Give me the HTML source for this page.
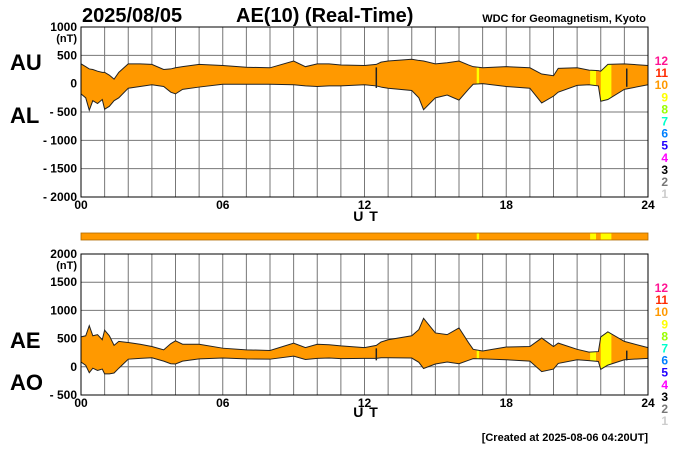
<!DOCTYPE html>
<html><head><meta charset="utf-8"><style>
html,body{margin:0;padding:0;background:#fff}
svg{display:block;font-family:"Liberation Sans",Arial,sans-serif}
</style></head><body>
<svg id="chart" width="700" height="450" viewBox="0 0 700 450">
<text x="82" y="22" font-size="20" font-weight="bold">2025/08/05</text>
<text x="236" y="22" font-size="20" font-weight="bold">AE(10) (Real-Time)</text>
<text x="646" y="22" font-size="11" font-weight="bold" text-anchor="end">WDC for Geomagnetism, Kyoto</text>
<text x="10" y="70" font-size="22" font-weight="bold">AU</text>
<text x="10" y="123" font-size="22" font-weight="bold">AL</text>
<text x="10" y="348" font-size="22" font-weight="bold">AE</text>
<text x="10" y="390" font-size="22" font-weight="bold">AO</text>
<text x="366" y="221" font-size="14" font-weight="bold" text-anchor="middle" letter-spacing="1">U T</text>
<text x="366" y="417" font-size="14" font-weight="bold" text-anchor="middle" letter-spacing="1">U T</text>
<text x="648" y="441" font-size="11" font-weight="bold" text-anchor="end">[Created at 2025-08-06 04:20UT]</text>
<g id="top"></g><g id="bot"></g><g id="strip"></g>
</svg>
<script>
const hours=[0,0.2,0.35,0.5,0.7,0.9,1.0,1.2,1.4,1.6,2,2.5,3,3.5,3.8,4,4.3,5,6,7,8,9,9.5,10,10.5,11,12,12.5,12.7,13,14,14.3,14.5,15,15.5,16,16.4,16.6,17,18,19,19.5,20,20.2,21,21.5,21.9,22,22.3,23,24];
const au=[350,300,260,250,220,200,200,150,80,200,350,350,340,250,260,280,300,340,320,290,280,400,300,350,350,330,320,340,380,400,430,410,400,350,370,400,330,300,280,300,280,170,140,270,280,240,230,220,340,350,320];
const al=[-180,-250,-470,-300,-350,-280,-450,-400,-300,-250,-80,-50,-20,-50,-150,-180,-100,-60,-10,-10,-10,-20,-40,-50,-40,-40,-20,-40,-60,-80,-120,-250,-460,-250,-200,-290,-100,-10,0,-50,-80,-340,-220,-150,-30,-20,-40,-310,-280,-100,-20];
const yellowBands=[[16.75,16.85],[21.55,21.8],[22.0,22.45]];
const spikes=[12.5,23.1];
const topTicks=[1000,500,0,-500,-1000,-1500,-2000];
const topTickLabels=["1000","500","0","- 500","- 1000","- 1500","- 2000"];
const botTicks=[2000,1500,1000,500,0,-500];
const botTickLabels=["2000","1500","1000","500","0","- 500"];
const xTickLabels=["00","06","12","18","24"];
const legendNums=["12","11","10","9","8","7","6","5","4","3","2","1"];
const legendColors=["#ff1493","#ff2a00","#ff9900","#ffff00","#99ff00","#00ffcc","#0080ff","#2000ff","#ff00ff","#000","#777","#ccc"];

const NS="http://www.w3.org/2000/svg";
const X0=81,X1=648;
const xs=h=>X0+(X1-X0)*h/24;
function mk(p,t,a){const e=document.createElementNS(NS,t);for(const k in a)e.setAttribute(k,a[k]);p.appendChild(e);return e;}
const ae=au.map((v,i)=>v-al[i]);
const ao=au.map((v,i)=>(v+al[i])/2);

function panel(g,top,bot,ymax,ymin,ticks,labels,upper,lower,name){
  const ys=v=>top+(ymax-v)*(bot-top)/(ymax-ymin);
  for(let h=0;h<=24;h++){const l=mk(g,'line',{x1:xs(h),x2:xs(h),y1:top,y2:bot,stroke:'#777','stroke-width':1});
    }
  ticks.forEach((v,i)=>{const l=mk(g,'line',{x1:X0,x2:X1,y1:ys(v),y2:ys(v),stroke:'#777','stroke-width':1});
    
    const t=mk(g,'text',{x:77,y:ys(v)+4,'font-size':12,'font-weight':'bold','text-anchor':'end'});t.textContent=labels[i];
    });
  const nt=mk(g,'text',{x:77,y:ys(ticks[0])+15,'font-size':11,'font-weight':'bold','text-anchor':'end'});nt.textContent='(nT)';
  
  let d='M'+hours.map((h,i)=>xs(h)+','+ys(upper[i])).join('L');
  for(let i=hours.length-1;i>=0;i--)d+='L'+xs(hours[i])+','+ys(lower[i]);
  const area=mk(g,'path',{d:d+'Z',fill:'#ff9900',stroke:'none'});
  
  const clip=mk(g,'clipPath',{id:'c'+name});mk(clip,'path',{d:d+'Z'});
  yellowBands.forEach(b=>{const r=mk(g,'rect',{x:xs(b[0]),y:top,width:xs(b[1])-xs(b[0]),height:bot-top,fill:'#ffff00','clip-path':'url(#c'+name+')'});
    });
  [upper,lower].forEach((arr,k)=>{const p=mk(g,'polyline',{points:hours.map((h,i)=>xs(h)+','+ys(arr[i])).join(' '),fill:'none',stroke:'#222','stroke-width':1});
    });
  spikes.forEach(s=>{let i=hours.findIndex(h=>h>=s);const l=mk(g,'line',{x1:xs(s),x2:xs(s),y1:ys(upper[i])+3,y2:ys(lower[i])+2,stroke:'#222','stroke-width':1.5});
    });
  const f=mk(g,'rect',{x:X0,y:top,width:X1-X0,height:bot-top,fill:'none',stroke:'#000','stroke-width':1});
  
  xTickLabels.forEach((s,i)=>{const t=mk(g,'text',{x:xs(i*6),y:bot+12,'font-size':12,'font-weight':'bold','text-anchor':'middle'});t.textContent=s;
    });
  legendNums.forEach((s,i)=>{const t=mk(g,'text',{x:668,y:top+38+i*12.1,'font-size':12,'font-weight':'bold','text-anchor':'end',fill:legendColors[i]});t.textContent=s;
    });
}
panel(document.getElementById('top'),27,197,1000,-2000,topTicks,topTickLabels,au,al,'au-al');
panel(document.getElementById('bot'),254,395,2000,-500,botTicks,botTickLabels,ae,ao,'ae-ao');
const sg=document.getElementById('strip');
const sb=mk(sg,'rect',{x:X0,y:233,width:X1-X0,height:7,fill:'#ff9900',stroke:'#b06a00','stroke-width':0.8});

yellowBands.forEach(b=>{const r=mk(sg,'rect',{x:xs(b[0]),y:233.5,width:xs(b[1])-xs(b[0]),height:6,fill:'#ffff00'});
  });
</script>
</body></html>
